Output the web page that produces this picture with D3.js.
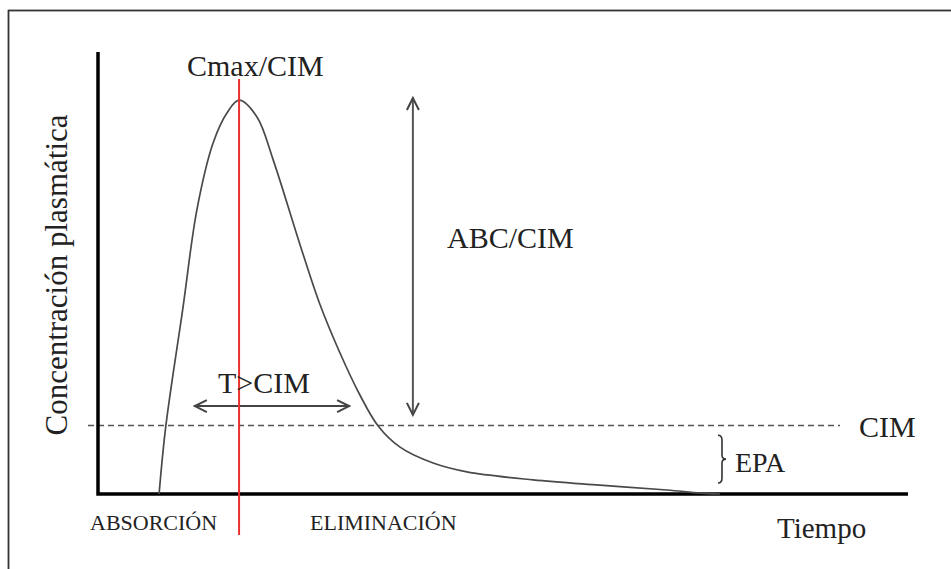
<!DOCTYPE html>
<html>
<head>
<meta charset="utf-8">
<script src="https://cdn.jsdelivr.net/npm/d3@7"></script>
<style>
  html, body { margin: 0; padding: 0; background: #fff; }
  text { font-family: "Liberation Serif", "DejaVu Serif", serif; fill: #222; }
</style>
</head>
<body>
<div id="chart"></div>
<script>
  var width = 951;
  var height = 569;

// concentration curve, time (h) vs concentration (arbitrary units)
var curveTime = [1.81, 2.01, 2.52, 2.93, 3.41, 3.82, 4.18, 4.71, 5.19, 5.99, 6.58, 7.17, 7.76, 8.30, 8.95, 9.93, 10.93, 12.89, 14.87, 16.86, 17.84, 18.43];
var curveConc = [0, 1.54, 4.23, 6.43, 7.94, 8.62, 8.91, 8.53, 7.56, 5.63, 4.28, 3.19, 2.24, 1.54, 1.06, 0.70, 0.50, 0.32, 0.20, 0.09, 0.02, 0];

var cim = 1.55;
var tMax = 4.18;
var cMax = 8.91;

// annotation extents (data units)
var tCimRange = [2.87, 7.44];
var tCimLevel = 1.99;
var abcTime = 9.33;
var abcRange = [1.79, 8.96];
var epaTime = 18.37;
var epaRange = [0.25, 1.33];

var phaseLabels = ["ABSORCIÓN", "ELIMINACIÓN"];

var x = d3.scaleLinear().domain([0, 24]).range([98, 908]);
var y = d3.scaleLinear().domain([0, 10]).range([494, 52]);

var svg = d3.select("#chart").append("svg")
  .attr("width", width)
  .attr("height", height);

var defs = svg.append("defs");
defs.append("marker")
  .attr("id", "chev")
  .attr("viewBox", "-14 -8 16 16")
  .attr("refX", 0)
  .attr("refY", 0)
  .attr("markerWidth", 16)
  .attr("markerHeight", 16)
  .attr("markerUnits", "userSpaceOnUse")
  .attr("orient", "auto-start-reverse")
  .append("path")
  .attr("d", "M-12,-6L0,0L-12,6")
  .attr("fill", "none")
  .attr("stroke", "#444")
  .attr("stroke-width", 2);

// outer frame
svg.append("rect")
  .attr("x", 8.5).attr("y", 10.5)
  .attr("width", 1000).attr("height", 1000)
  .attr("fill", "none")
  .attr("stroke", "#333")
  .attr("stroke-width", 1.8);

// CIM dashed line
svg.append("line")
  .attr("x1", 88).attr("x2", 840)
  .attr("y1", y(cim)).attr("y2", y(cim))
  .attr("stroke", "#555")
  .attr("stroke-width", 1.6)
  .attr("stroke-dasharray", "6,4");

// axes
svg.append("path")
  .attr("d", "M" + x(0) + "," + y(10) + "V" + y(0) + "H" + x(24))
  .attr("fill", "none")
  .attr("stroke", "#000")
  .attr("stroke-width", 3.5);

// concentration curve
var pts = curveTime.map(function(t, i){ return [t, curveConc[i]]; });
var line = d3.line()
  .x(function(d){ return x(d[0]); })
  .y(function(d){ return y(d[1]); })
  .curve(d3.curveCatmullRom.alpha(0.5));

svg.append("path")
  .datum(pts)
  .attr("d", line)
  .attr("fill", "none")
  .attr("stroke", "#4a4a4a")
  .attr("stroke-width", 1.7);

// T>CIM arrow
svg.append("line")
  .attr("x1", x(tCimRange[0])).attr("x2", x(tCimRange[1]))
  .attr("y1", y(tCimLevel)).attr("y2", y(tCimLevel))
  .attr("stroke", "#444").attr("stroke-width", 2)
  .attr("marker-start", "url(#chev)")
  .attr("marker-end", "url(#chev)");

// ABC/CIM arrow
svg.append("line")
  .attr("x1", x(abcTime)).attr("x2", x(abcTime))
  .attr("y1", y(abcRange[1])).attr("y2", y(abcRange[0]))
  .attr("stroke", "#555").attr("stroke-width", 2)
  .attr("marker-start", "url(#chev)")
  .attr("marker-end", "url(#chev)");

// EPA brace
var bx = x(epaTime), by0 = y(epaRange[1]), by1 = y(epaRange[0]), bm = (by0 + by1) / 2;
svg.append("path")
  .attr("d", "M" + bx + "," + by0 + "Q" + (bx + 4) + "," + by0 + " " + (bx + 4) + "," + (by0 + 5) +
    "V" + (bm - 4) + "Q" + (bx + 4) + "," + bm + " " + (bx + 8) + "," + bm +
    "Q" + (bx + 4) + "," + bm + " " + (bx + 4) + "," + (bm + 4) +
    "V" + (by1 - 5) + "Q" + (bx + 4) + "," + by1 + " " + bx + "," + by1)
  .attr("fill", "none")
  .attr("stroke", "#333")
  .attr("stroke-width", 1.6);

// red line at tmax
svg.append("line")
  .attr("x1", x(tMax)).attr("x2", x(tMax))
  .attr("y1", 79).attr("y2", 535)
  .attr("stroke", "#e8322b")
  .attr("stroke-width", 2);

// texts
svg.append("text").attr("x", 187).attr("y", 76)
  .style("font-size", "30px").text("Cmax/CIM");

svg.append("text").attr("x", 447).attr("y", 248)
  .style("font-size", "30px").text("ABC/CIM");

svg.append("text").attr("x", 218).attr("y", 393)
  .style("font-size", "30px").text("T>CIM");

svg.append("text").attr("x", 859).attr("y", 437)
  .style("font-size", "30px").text("CIM");

svg.append("text").attr("x", 735).attr("y", 472)
  .style("font-size", "28px").text("EPA");

svg.append("text").attr("x", 777).attr("y", 538)
  .style("font-size", "29px").text("Tiempo");

svg.selectAll(".phase")
  .data(phaseLabels)
  .enter().append("text")
  .attr("class", "phase")
  .attr("x", function(d, i){ return i === 0 ? 90 : 310; })
  .attr("y", 530)
  .style("font-size", "22px")
  .text(function(d){ return d; });

svg.append("text")
  .attr("transform", "translate(67,275) rotate(-90)")
  .attr("text-anchor", "middle")
  .style("font-size", "31px")
  .text("Concentración plasmática");
</script>
</body>
</html>
